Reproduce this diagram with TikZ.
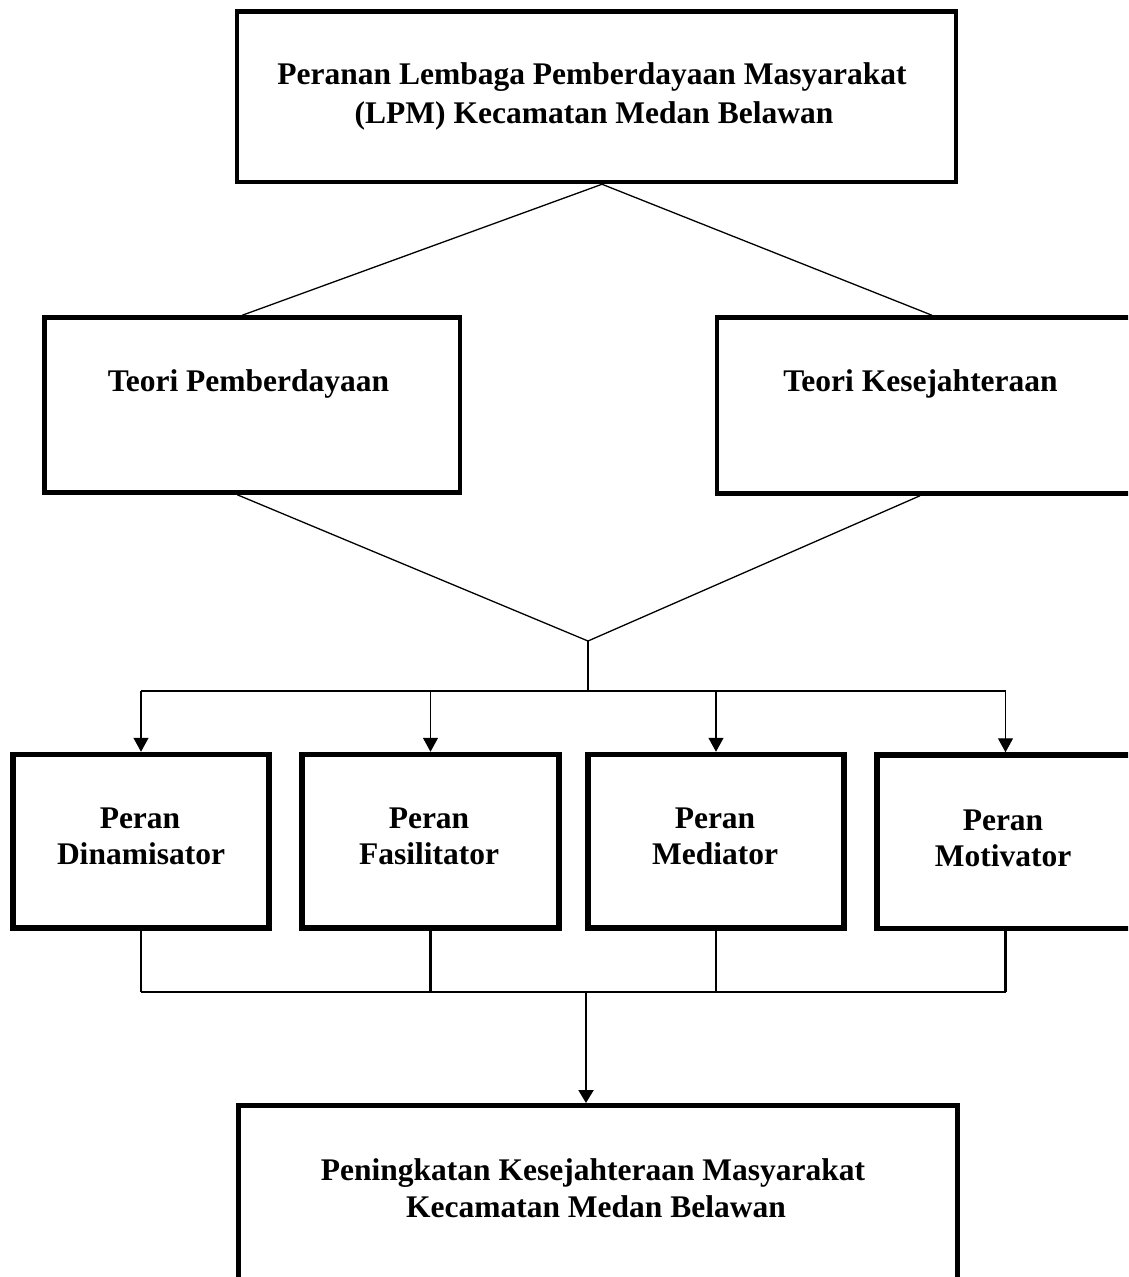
\documentclass[tikz,border=0pt]{standalone}
\usepackage{fontspec}
\setmainfont{Liberation Serif}
\usetikzlibrary{arrows.meta,calc}
\tikzset{
  boxA/.style={draw, line width=4.5pt, inner sep=0pt, rectangle, line join=miter},
  boxB/.style={draw, line width=5.5pt, inner sep=0pt, rectangle, line join=miter},
  boxC/.style={draw, line width=5pt, inner sep=0pt, rectangle, line join=miter},
  txt/.style={anchor=base, inner sep=0pt, font=\fontsize{31.5}{38}\selectfont\bfseries},
  thinconn/.style={draw, line width=1.3pt},
  thickconn/.style={draw, line width=2.2pt},
  arrA/.style={thinconn, -{Triangle[length=14pt,width=15pt]}},
  arrB/.style={thickconn, -{Triangle[length=13pt,width=15pt]}},
}
\begin{document}
\begin{tikzpicture}[x=1pt,y=-1pt]
\useasboundingbox (0,0) rectangle (1128,1277);
\clip (0,0) rectangle (1128,1277);
\fill[white] (0,0) rectangle (1128,1277);

% boxes
\node[boxA, minimum width=719pt, minimum height=170.5pt] (top) at (596.5,96.75) {};
\node[boxA, minimum width=415.5pt, minimum height=175pt] (tp) at (252.25,405) {};
\node[boxA, minimum width=415pt, minimum height=176pt] (tk) at (924.5,405.5) {};
\node[boxB, minimum width=256pt, minimum height=173.5pt] (pd) at (141,841.25) {};
\node[boxB, minimum width=257pt, minimum height=173.5pt] (pf) at (430.5,841.25) {};
\node[boxB, minimum width=256pt, minimum height=173.5pt] (pm) at (716,841.25) {};
\node[boxB, minimum width=257pt, minimum height=173.5pt] (po) at (1005.5,841.75) {};
\node[boxC, minimum width=719pt, minimum height=190pt] (bot) at (597.5,1200.5) {};

% texts
\node[txt] (t1) at (592,84) {Peranan Lembaga Pemberdayaan Masyarakat};
\node[txt] (t2) at (594,123) {(LPM) Kecamatan Medan Belawan};
\node[txt] (tpt) at (248.5,391) {Teori Pemberdayaan};
\node[txt] (tkt) at (920.5,391) {Teori Kesejahteraan};
\node[txt] (pd1) at (140,828) {Peran};
\node[txt] (pd2) at (141,864) {Dinamisator};
\node[txt] (pf1) at (429,828) {Peran};
\node[txt] (pf2) at (429,864) {Fasilitator};
\node[txt] (pm1) at (715,828) {Peran};
\node[txt] (pm2) at (715,864) {Mediator};
\node[txt] (po1) at (1003,830) {Peran};
\node[txt] (po2) at (1003,866) {Motivator};
\node[txt] (b1) at (593,1180) {Peningkatan Kesejahteraan Masyarakat};
\node[txt] (b2) at (596,1217) {Kecamatan Medan Belawan};

% upper connectors
\coordinate (apex) at ($(top.south)+(5.5,0)$);
\draw[thinconn] (apex) -- ($(tp.north)+(-10,0)$);
\draw[thinconn] (apex) -- ($(tk.north)+(7.5,0)$);
\coordinate (jt) at (588,641);
\coordinate (bus) at (588,691);
\draw[thinconn] ($(tp.south)+(-15,0)$) -- (jt);
\draw[thinconn] ($(tk.south)+(-4.5,0)$) -- (jt);
\draw[thinconn] (jt) -- (bus);
\draw[thinconn] (pd.north |- bus) -- (po.north |- bus);
\draw[arrA] (pd.north |- bus) -- (pd.north);
\draw[arrA] (pf.north |- bus) -- (pf.north);
\draw[arrA] (pm.north |- bus) -- (pm.north);
\draw[arrA] (po.north |- bus) -- (po.north);

% lower connectors
\coordinate (bus2) at (586,992);
\draw[thickconn] (pd.south) -- (pd.south |- bus2);
\draw[thickconn] (pf.south) -- (pf.south |- bus2);
\draw[thickconn] (pm.south) -- (pm.south |- bus2);
\draw[thickconn] (po.south) -- (po.south |- bus2);
\draw[thickconn] (pd.south |- bus2) -- (po.south |- bus2);
\draw[arrB] (bus2) -- (bus2 |- bot.north);
\end{tikzpicture}
\end{document}
